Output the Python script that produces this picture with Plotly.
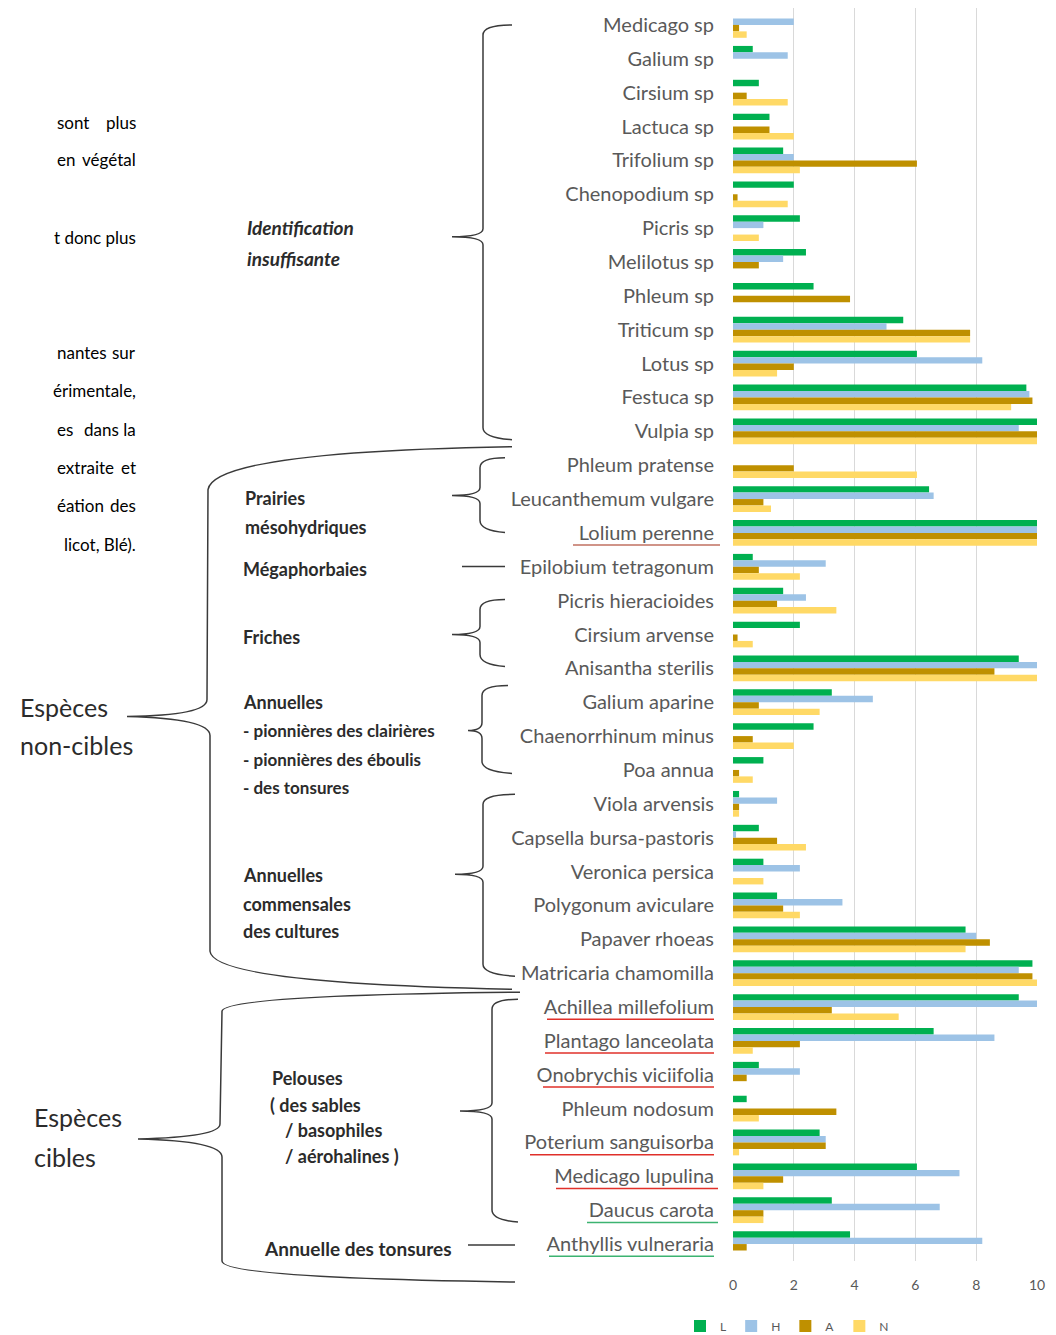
import plotly.graph_objects as go

# ---------------- data ----------------
categories = ["Medicago sp", "Galium sp", "Cirsium sp", "Lactuca sp", "Trifolium sp",
              "Chenopodium sp", "Picris sp", "Melilotus sp", "Phleum sp", "Triticum sp",
              "Lotus sp", "Festuca sp", "Vulpia sp", "Phleum pratense", "Leucanthemum vulgare",
              "Lolium perenne", "Epilobium tetragonum", "Picris hieracioides", "Cirsium arvense",
              "Anisantha sterilis", "Galium aparine", "Chaenorrhinum minus", "Poa annua",
              "Viola arvensis", "Capsella bursa-pastoris", "Veronica persica",
              "Polygonum aviculare", "Papaver rhoeas", "Matricaria chamomilla",
              "Achillea millefolium", "Plantago lanceolata", "Onobrychis viciifolia",
              "Phleum nodosum", "Poterium sanguisorba", "Medicago lupulina", "Daucus carota",
              "Anthyllis vulneraria"]

L = [0, 0.65, 0.85, 1.2, 1.65, 2.0, 2.2, 2.4, 2.65, 5.6, 6.05, 9.65, 10, 0, 6.45, 10,
     0.65, 1.65, 2.2, 9.4, 3.25, 2.65, 1.0, 0.2, 0.85, 1.0, 1.45, 7.65, 9.85, 9.4, 6.6,
     0.85, 0.45, 2.85, 6.05, 3.25, 3.85]
H = [2.0, 1.8, 0, 0, 2.0, 0, 1.0, 1.65, 0, 5.05, 8.2, 9.75, 9.4, 0, 6.6, 10,
     3.05, 2.4, 0, 10, 4.6, 0, 0, 1.45, 0.1, 2.2, 3.6, 8.0, 9.4, 10, 8.6,
     2.2, 0, 3.05, 7.45, 6.8, 8.2]
A = [0.2, 0, 0.45, 1.2, 6.05, 0.15, 0, 0.85, 3.85, 7.8, 2.0, 9.85, 10, 2.0, 1.0, 10,
     0.85, 1.45, 0.15, 8.6, 0.85, 0.65, 0.2, 0.2, 1.45, 0, 1.65, 8.45, 9.85, 3.25, 2.2,
     0.45, 3.4, 3.05, 1.65, 1.0, 0.45]
N = [0.45, 0, 1.8, 2.0, 2.2, 1.8, 0.85, 0, 0, 7.8, 1.45, 9.15, 10, 6.05, 1.25, 10,
     2.2, 3.4, 0.65, 10, 2.85, 2.0, 0.65, 0.2, 2.4, 1.0, 2.2, 7.65, 10, 5.45, 0.65,
     0, 0.85, 0.2, 1.0, 1.0, 0]

series_names = ["L", "H", "A", "N"]
series_colors = ["#00B050", "#9DC3E6", "#BF9000", "#FFD966"]
x_ticks = [0, 2, 4, 6, 8, 10]

# ---------------- geometry helpers (reference pixel -> paper) ----------------
W, HREF = 1056, 1335
KY = 1349 / 1335            # vertical compensation of the capture
HGT = round(HREF * KY)
PL, PR, PT, PB = 733, 1037, 8, 1262


def px(x):
    return (x - PL) / (PR - PL)


def py(y):
    return (PB - y) / (PB - PT)


def path(cmds):
    out = []
    for c in cmds:
        op = c[0]
        pts = c[1:]
        s = op + " " + " ".join(f"{px(pts[i]):.5f},{py(pts[i+1]):.5f}" for i in range(0, len(pts), 2))
        out.append(s)
    return " ".join(out)


def brace(xh_top, yt, xv, ytip, xtip, yb, xh_bot=None, r=10):
    if xh_bot is None:
        xh_bot = xh_top
    return path([
        ("M", xh_top, yt),
        ("Q", xv, yt, xv, yt + r),
        ("L", xv, ytip - 8),
        ("Q", xv, ytip, xtip, ytip),
        ("Q", xv, ytip, xv, ytip + 8),
        ("L", xv, yb - r),
        ("Q", xv, yb, xh_bot, yb + 2),
    ])


fig = go.Figure()
for name, vals, col in zip(series_names, [L, H, A, N], series_colors):
    fig.add_trace(go.Bar(y=categories, x=vals, name=name, orientation="h",
                         marker=dict(color=col, line=dict(width=0))))

line_col = "#3a3a3a"
shapes = []
paths = [
    brace(512, 25, 483, 237, 452, 438),
    path([("M", 512, 447), ("Q", 214, 452, 208, 490), ("L", 207, 700),
          ("Q", 207, 716, 127, 717), ("Q", 210, 719, 210, 736), ("L", 210, 952),
          ("Q", 213, 984, 512, 990)]),
    brace(505, 458, 480, 496, 452, 531),
    path([("M", 462, 567), ("L", 505, 567)]),
    brace(505, 600, 480, 635, 452, 665),
    brace(508, 686, 482, 731, 468, 772, 512),
    brace(515, 795, 483, 875, 455, 975),
    path([("M", 520, 993), ("Q", 224, 996, 222, 1012), ("L", 220, 1125),
          ("Q", 220, 1138, 138, 1140), ("Q", 222, 1142, 222, 1158), ("L", 222, 1262),
          ("Q", 222, 1279, 515, 1283)]),
    brace(518, 1000, 492, 1112, 460, 1221),
    path([("M", 468, 1246), ("L", 515, 1246)]),
]
for p in paths:
    shapes.append(dict(type="path", xref="paper", yref="paper", path=p,
                       line=dict(color=line_col, width=1.5)))

red = "#e0302a"
green = "#3cb371"
underlines = [("Lolium perenne", 573, 720, "#c07060"),
              ("Achillea millefolium", 547, 714, red),
              ("Plantago lanceolata", 545, 714, red),
              ("Onobrychis viciifolia", 543, 714, red),
              ("Poterium sanguisorba", 530, 714, red),
              ("Medicago lupulina", 556, 718, red),
              ("Daucus carota", 587, 718, green),
              ("Anthyllis vulneraria", 549, 714, green)]
for cat, x0, x1, col in underlines:
    i = categories.index(cat)
    shapes.append(dict(type="line", xref="paper", yref="y", x0=px(x0), x1=px(x1),
                       y0=i + 0.36, y1=i + 0.36, line=dict(color=col, width=1.5)))

annotations = []
FONT = "Lato"
# group labels
group_labels = [
    ("<b><i>Identification</i></b>", 245, 228, 19),
    ("<b><i>insuffisante</i></b>", 245, 259, 19),
    ("<b>Prairies</b>", 243, 498, 18),
    ("<b>mésohydriques</b>", 243, 527, 18),
    ("<b>Mégaphorbaies</b>", 241, 569, 18),
    ("<b>Friches</b>", 241, 638, 18),
    ("<b>Annuelles</b>", 241, 703, 18),
    ("<b>- pionnières des clairières</b>", 241, 731, 17),
    ("<b>- pionnières des éboulis</b>", 241, 760, 17),
    ("<b>- des tonsures</b>", 241, 788, 17),
    ("<b>Annuelles</b>", 241, 876, 18),
    ("<b>commensales</b>", 241, 905, 18),
    ("<b>des cultures</b>", 241, 932, 18),
    ("<b>Pelouses</b>", 270, 1079, 18),
    ("<b>( des sables</b>", 268, 1106, 18),
    ("<b>/ basophiles</b>", 283, 1131, 18),
    ("<b>/ aérohalines )</b>", 283, 1157, 18),
    ("<b>Annuelle des tonsures</b>", 262, 1249, 19),
    ("Espèces", 18, 708, 25),
    ("non-cibles", 18, 746, 25),
    ("Espèces", 32, 1118, 25),
    ("cibles", 32, 1158, 25),
]
for txt, x, y, s in group_labels:
    annotations.append(dict(text=txt, xref="paper", yref="paper", x=px(x), y=py(y),
                            xanchor="left", yanchor="middle", showarrow=False,
                            font=dict(family=FONT, size=s, color="#2b2b2b")))

# paragraph fragments (justified page text cut by the figure)
para = [("sont", "plus", 123), ("en", "végétal", 160), ("", "t donc plus", 238),
        ("nantes", "sur", 353), ("", "érimentale,", 391), ("es", "dans la", 430),
        ("extraite", "et", 468), ("éation", "des", 506), ("", "licot, Blé).", 545)]
for left, right, y in para:
    if left:
        annotations.append(dict(text=left, xref="paper", yref="paper", x=px(55), y=py(y),
                                xanchor="left", yanchor="middle", showarrow=False,
                                font=dict(family=FONT, size=17, color="#000000")))
    annotations.append(dict(text=right, xref="paper", yref="paper", x=px(138), y=py(y),
                            xanchor="right", yanchor="middle", showarrow=False,
                            font=dict(family=FONT, size=17, color="#000000")))

fig.update_layout(
    width=W, height=HGT,
    margin=dict(l=PL, r=W - PR, t=PT * KY, b=HGT - PB * KY, pad=0),
    paper_bgcolor="white", plot_bgcolor="white",
    barmode="group", bargap=0.24, bargroupgap=0,
    font=dict(family=FONT, color="#595959"),
    xaxis=dict(range=[0, 10], tickvals=x_ticks, showgrid=True, gridcolor="#d9d9d9",
               gridwidth=1, zeroline=False, showline=False, ticks="",
               tickfont=dict(size=14, color="#595959"), ticklabelstandoff=14),
    yaxis=dict(type="category", categoryorder="array", categoryarray=categories,
               range=[len(categories) - 0.5, -0.5], showgrid=False, zeroline=False,
               ticks="", tickfont=dict(size=20, color="#595959"), ticklabelstandoff=18),
    legend=dict(orientation="h", x=px(787), xanchor="center", y=py(1327), yanchor="middle",
                font=dict(size=12, color="#595959"), itemwidth=30, traceorder="normal"),
    shapes=shapes, annotations=annotations,
)

fig.write_html("out.html", config={"displayModeBar": False},
               post_script="document.body.style.margin='0';"
                           "document.documentElement.style.overflow='hidden';")
